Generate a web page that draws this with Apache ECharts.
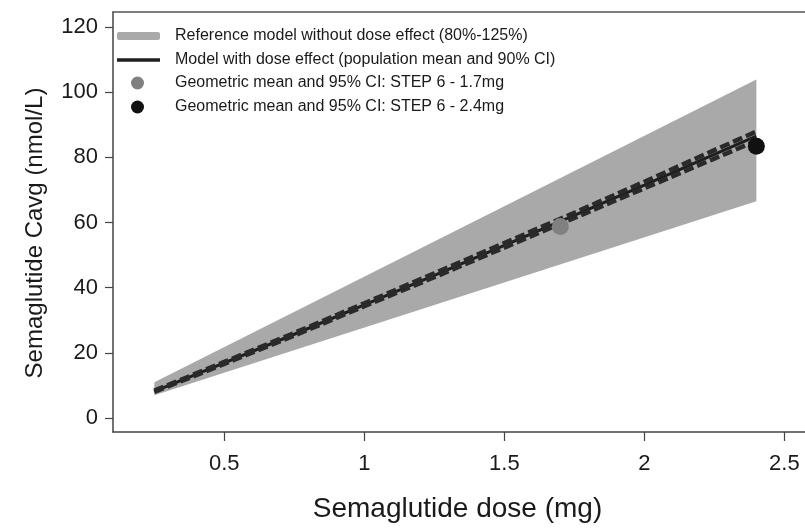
<!DOCTYPE html>
<html>
<head>
<meta charset="utf-8">
<script src="https://cdn.jsdelivr.net/npm/echarts@6/dist/echarts.min.js"></script>
<style>html,body{margin:0;padding:0;background:#fff;overflow:hidden;width:805px;height:529px;}#c{width:830px;height:529px;}</style>
</head>
<body>
<div id="c"></div>
<script>
// ---- data ----
var refDose = [0.25, 2.4];
var refLower = [7.0, 66.5];
var refUpper = [11.0, 103.9];

var modelDose = [0.25, 0.5, 0.75, 1, 1.25, 1.5, 1.75, 2, 2.25, 2.4];
var modelMean = [8.2, 16.9, 25.7, 34.75, 43.8, 53.0, 62.2, 71.5, 80.9, 86.5];
var modelLower = [8.0, 16.6, 25.3, 34.3, 43.2, 52.3, 61.4, 70.5, 79.6, 85.1];
var modelUpper = [8.4, 17.2, 26.1, 35.2, 44.4, 53.7, 63.0, 72.5, 82.2, 87.9];

var obs17 = [1.7, 58.8];
var obs24 = [2.4, 83.4];

var xTicks = [0.5, 1, 1.5, 2, 2.5];
var yTicks = [0, 20, 40, 60, 80, 100, 120];

var names = [
  'Reference model without dose effect (80%-125%)',
  'Model with dose effect (population mean and 90% CI)',
  'Geometric mean and 95% CI: STEP 6 - 1.7mg',
  'Geometric mean and 95% CI: STEP 6 - 2.4mg'
];

function zip(a, b) { return a.map(function (v, i) { return [v, b[i]]; }); }

var bandData = refDose.map(function (d, i) { return [d, refLower[i], refUpper[i]]; });

var chart = echarts.init(document.getElementById('c'), null, {renderer: 'canvas'});
var FONT = 'Liberation Sans, Arial, sans-serif';

function legendAt(left, top, name, icon, w, h, color, padLeft) {
  return {
    left: left, top: top, padding: 0, itemWidth: w, itemHeight: h,
    icon: icon, selectedMode: false,
    textStyle: {fontFamily: FONT, fontSize: 16, color: '#1a1a1a', padding: [0, 0, 0, padLeft]},
    data: [{name: name, icon: icon, itemStyle: {color: color, borderWidth: 0}, lineStyle: {width: 0}}]
  };
}

// container is 830px wide (page shows 805px); plot spans x=113..830
var XMIN = 0.1025, XMAX = 2.663;

chart.setOption({
  animation: false,
  backgroundColor: '#fff',
  grid: {left: 113, top: 12, right: 0, bottom: 97, show: false},
  legend: [
    legendAt(117, 28, names[0], 'roundRect', 43, 8, '#a9a9a9', 10),
    legendAt(117, 52, names[1], 'rect', 43, 3.5, '#1e1e1e', 10),
    legendAt(131, 75, names[2], 'circle', 13, 13, '#808080', 26),
    legendAt(131, 99, names[3], 'circle', 13, 13, '#111111', 26)
  ],
  xAxis: [{
    type: 'value', min: XMIN, max: XMAX,
    name: 'Semaglutide dose (mg)', nameLocation: 'middle', nameGap: 63,
    nameTextStyle: {fontFamily: FONT, fontSize: 28, color: '#1a1a1a', padding: [0, 28, 0, 0]},
    axisLine: {show: true, onZero: false, lineStyle: {color: '#444', width: 1.5}},
    axisTick: {show: true, length: 9, customValues: xTicks, lineStyle: {color: '#444', width: 1.2}},
    axisLabel: {customValues: xTicks, margin: 21, fontFamily: FONT, fontSize: 22, color: '#1a1a1a'},
    splitLine: {show: false}
  }, {
    type: 'value', min: XMIN, max: XMAX, position: 'top',
    axisLine: {show: true, onZero: false, lineStyle: {color: '#555', width: 1.5}},
    axisTick: {show: false}, axisLabel: {show: false}, splitLine: {show: false}
  }],
  yAxis: {
    type: 'value', min: -4.3, max: 124.6,
    name: 'Semaglutide Cavg (nmol/L)', nameLocation: 'middle', nameGap: 66,
    nameTextStyle: {fontFamily: FONT, fontSize: 24, color: '#1a1a1a', padding: [0, 22, 0, 0]},
    axisLine: {show: true, onZero: false, lineStyle: {color: '#444', width: 1.5}},
    axisTick: {show: true, length: 8, customValues: yTicks, lineStyle: {color: '#444', width: 1.2}},
    axisLabel: {customValues: yTicks, margin: 15, fontFamily: FONT, fontSize: 22, color: '#1a1a1a'},
    splitLine: {show: false}
  },
  series: [
    {
      type: 'custom', name: names[0], z: 1,
      itemStyle: {color: '#a9a9a9'},
      data: bandData,
      encode: {x: 0, y: [1, 2]},
      renderItem: function (params, api) {
        if (params.dataIndex !== 0) return null;
        var pts = [];
        for (var i = 0; i < refDose.length; i++) pts.push(api.coord([refDose[i], refUpper[i]]));
        for (var j = refDose.length - 1; j >= 0; j--) pts.push(api.coord([refDose[j], refLower[j]]));
        return {type: 'polygon', shape: {points: pts}, style: {fill: '#a9a9a9'}};
      }
    },
    {
      type: 'line', name: names[1], z: 3, symbol: 'none',
      data: zip(modelDose, modelMean),
      itemStyle: {color: '#1e1e1e'},
      lineStyle: {color: '#1e1e1e', width: 3}
    },
    {
      type: 'line', name: 'ci-lower', z: 3, symbol: 'none',
      data: zip(modelDose, modelLower),
      lineStyle: {color: '#2a2a2a', width: 4.5, type: [10, 4]}
    },
    {
      type: 'line', name: 'ci-upper', z: 3, symbol: 'none',
      data: zip(modelDose, modelUpper),
      lineStyle: {color: '#2a2a2a', width: 4.5, type: [10, 4]}
    },
    {
      type: 'scatter', name: names[2], z: 5, symbolSize: 17,
      data: [obs17], itemStyle: {color: '#808080', opacity: 1}
    },
    {
      type: 'scatter', name: names[3], z: 5, symbolSize: 17,
      data: [obs24], itemStyle: {color: '#111111', opacity: 1}
    }
  ]
});
</script>
</body>
</html>
